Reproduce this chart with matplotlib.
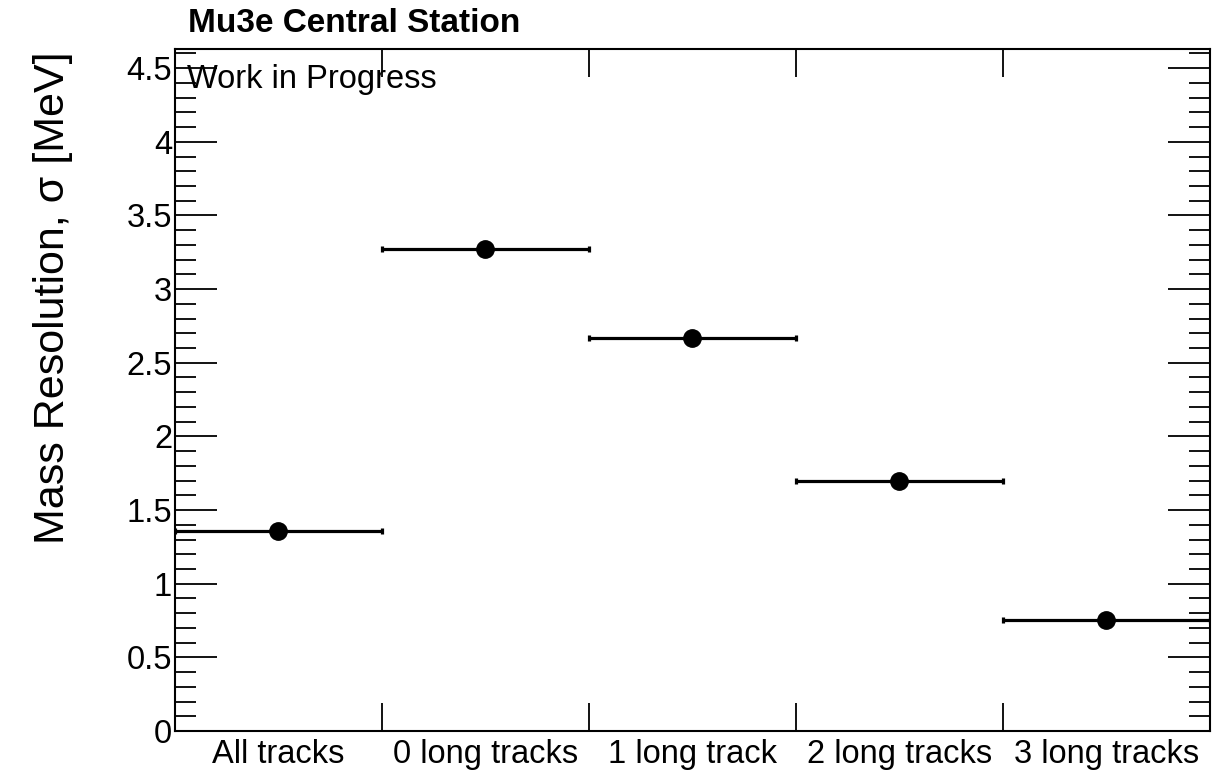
import numpy as np
import matplotlib
matplotlib.use("Agg")
import matplotlib.pyplot as plt

# track categories and fitted mass resolution (MeV)
categories = ["All tracks", "0 long tracks", "1 long track", "2 long tracks", "3 long tracks"]
sigma = [1.358, 3.270, 2.668, 1.700, 0.754]

plt.rcParams['font.family'] = ['Liberation Sans', 'DejaVu Sans']

fig = plt.figure(figsize=(12.16, 7.73), dpi=100)
ax = fig.add_axes([0.1439, 0.0543, 0.8511, 0.8823])

x = np.arange(len(categories)) + 0.5   # bin centres
ax.errorbar(x, sigma, xerr=0.5, fmt='o', color='black', markersize=12.5,
            elinewidth=2.3, capsize=2, capthick=2.3)

ax.set_xlim(0, len(categories))
ax.set_ylim(0, 4.63)

# x axis: ticks at bin edges, labels at bin centres
ax.set_xticks(np.arange(len(categories) + 1))
ax.set_xticklabels([])
ax.set_xticks(x, minor=True)
ax.set_xticklabels(categories, minor=True, fontsize=23.5)
ax.tick_params(axis='x', which='major', direction='in', length=20, width=1.3,
               top=True, bottom=True)
ax.tick_params(axis='x', which='minor', length=0, pad=6)

# y axis
ax.set_yticks(np.arange(0, 4.51, 0.5))
ax.set_yticklabels(['0', '0.5', '1', '1.5', '2', '2.5', '3', '3.5', '4', '4.5'])
ax.set_yticks(np.arange(0, 4.63, 0.1), minor=True)
ax.tick_params(axis='y', which='major', direction='in', length=30, width=1.3,
               left=True, right=True, labelsize=23.5, pad=2)
ax.tick_params(axis='y', which='minor', direction='in', length=15, width=1.3,
               left=True, right=True)

for s in ax.spines.values():
    s.set_linewidth(1.5)

ax.set_ylabel("Mass Resolution, σ [MeV]", fontsize=31)
ax.yaxis.set_label_coords(-0.099, 0.635)

fig.text(0.1546, 0.958, "Mu3e Central Station", fontsize=24, fontweight='bold',
         ha='left', va='baseline')
ax.text(0.012, 0.955, "Work in Progress", transform=ax.transAxes, fontsize=23.5,
        ha='left', va='center')

fig.savefig("out.png", dpi=100)
